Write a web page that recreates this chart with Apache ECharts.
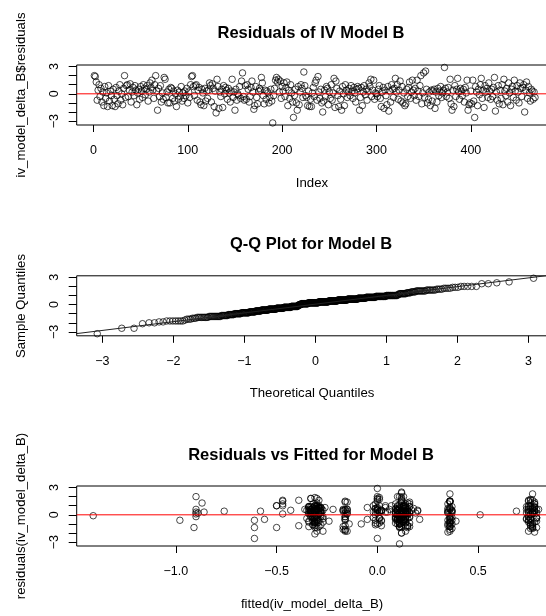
<!DOCTYPE html>
<html>
<head>
<meta charset="utf-8">
<script src="https://cdn.jsdelivr.net/npm/echarts@6/dist/echarts.min.js"></script>
<style>
    html, body { margin: 0; padding: 0; background: #fff; }
    #chart { width: 546px; height: 616px; }
</style>
</head>
<body>
<div id="chart"></div>
<script>
    const residuals = [
        2.0,1.9,1.3,-0.7,0.4,1.0,-0.3,0.6,-0.9,0.2,-1.3,0.8,-0.5,0.1,-1.4,0.9,-0.8,0.3,-0.2,-1.3,
        0.5,-0.6,-1.4,0.7,-0.2,-1.1,0.3,1.0,-0.7,0.0,-1.2,0.6,2.0,-0.4,0.9,1.0,-0.3,0.4,1.1,-0.9,
        0.2,0.7,-0.2,0.9,0.4,-1.2,0.1,0.5,-0.6,0.8,0.3,-0.4,1.0,0.6,-0.1,0.5,0.9,-0.8,0.2,1.2,
        0.7,1.5,0.4,-0.5,1.0,2.0,0.3,-1.8,0.6,-0.3,0.9,-0.9,0.1,-0.6,1.8,1.6,-0.4,0.2,-1.0,0.5,
        -1.0,0.7,0.6,-0.5,0.3,-0.8,0.0,-1.4,0.4,-0.6,0.2,-0.3,0.8,-0.8,0.1,-0.5,0.3,-0.2,0.6,-1.0,
        0.2,-0.4,1.0,1.9,2.0,0.8,-0.2,0.9,1.0,-0.7,0.4,0.7,-0.9,-1.2,0.5,0.1,-1.3,0.6,-0.8,0.3,
        -0.5,0.4,1.2,0.9,-0.9,1.1,0.6,-1.4,0.3,-2.1,1.6,0.8,-1.6,0.2,-0.3,0.5,-1.5,0.9,0.0,0.7,
        0.4,-0.6,0.6,0.1,-0.9,0.3,1.6,-0.4,0.2,-1.8,0.5,-0.7,0.0,-0.2,0.8,-0.5,1.4,2.3,-0.3,-0.7,
        0.9,-0.6,1.0,0.5,-0.9,-0.3,0.7,1.4,0.2,-1.7,-1.3,0.8,-0.4,-1.1,0.3,0.6,0.4,1.8,1.2,-0.2,
        -1.1,0.4,-0.6,0.3,0.1,-1.0,-0.4,0.5,-0.8,-3.2,-0.2,0.6,1.5,1.8,1.3,1.6,0.2,1.4,-0.5,0.8,
        0.3,1.2,-0.3,0.7,1.3,-1.3,0.4,-0.5,1.0,0.1,-0.9,-2.6,-0.2,0.5,-1.0,-1.8,0.8,-1.2,0.2,1.0,
        0.6,-0.4,2.4,0.9,-0.2,-0.4,-1.3,0.3,-1.4,-0.6,-1.4,0.1,0.7,-0.3,1.2,1.5,-0.7,1.9,0.2,-0.5,
        0.5,-1.0,-2.0,-0.8,0.4,-0.3,0.8,0.6,-1.2,0.2,-0.5,1.0,-0.7,0.1,1.7,-1.5,1.4,0.6,-0.2,-1.4,
        0.3,-0.6,-1.8,0.8,0.0,-1.3,1.0,0.4,-0.4,0.2,0.6,-0.2,0.9,0.3,-0.5,0.7,0.1,-0.9,0.5,0.8,
        0.6,-1.8,-0.4,0.7,-1.3,0.2,0.9,-0.1,0.5,-0.7,0.3,1.2,0.8,1.6,-0.3,0.4,1.5,-0.6,0.1,0.0,
        -0.3,0.5,0.9,-0.5,-1.4,0.2,0.7,-1.6,0.4,-0.2,-1.2,0.8,-1.9,0.3,-0.9,1.0,0.5,-0.4,0.6,1.7,
        0.2,1.0,-0.6,0.4,1.4,-0.8,0.8,-1.0,0.1,-1.3,-1.1,0.5,-0.3,0.7,1.3,-0.5,0.2,1.5,0.4,-0.2,
        0.6,-0.7,1.5,0.3,-0.3,0.9,2.0,-1.1,0.1,2.3,-0.4,2.5,0.5,-1.0,-0.6,0.2,-1.3,0.4,-0.8,0.3,
        0.5,-1.6,0.2,-0.9,0.6,-0.2,0.3,0.8,-0.4,0.1,0.4,2.9,0.6,-0.3,0.2,0.7,-0.5,1.6,-1.1,-1.8,
        0.4,-1.4,0.9,-0.3,0.5,1.7,0.2,-0.6,0.6,0.3,-0.2,0.5,-0.9,0.7,0.1,1.5,-1.8,-1.2,-1.0,0.3,
        -1.1,1.5,-0.8,-2.6,0.8,0.2,-1.3,0.5,-0.1,1.0,1.7,-0.5,0.4,-1.5,0.9,0.2,0.6,-0.4,1.2,0.3,
        -0.6,0.5,-0.3,0.7,1.8,-1.9,0.2,-0.7,0.9,-1.1,0.4,-0.5,1.0,-1.2,1.6,0.3,-0.2,0.6,-0.9,1.2,
        0.1,-1.3,0.5,0.8,-0.4,1.5,0.3,-0.7,0.9,0.2,-1.0,1.2,0.6,-0.3,0.7,1.0,-2.0,0.4,1.3,-0.5,
        0.8,0.1,-0.8,0.5,0.3,-0.6,0.2,-0.4
    ];

    // fitted values, same order
    const fittedValues = [
        -0.90,0.12,-0.87,0.10,-0.31,0.76,0.01,-0.33,0.14,0.36,-0.29,0.78,-0.16,0.09,-0.91,0.13,-0.34,-0.01,0.75,0.11,
        -0.30,-0.98,0.15,0.36,-0.28,0.12,0.77,-0.50,-0.32,0.10,-0.39,0.00,0.13,-0.35,0.16,-0.47,0.79,-0.15,0.11,-0.31,
        -0.89,0.14,-0.27,0.74,0.12,0.35,-0.47,-0.33,0.02,0.11,-0.86,0.15,-0.30,-0.36,-1.41,0.20,0.37,0.78,-0.32,0.09,
        -0.29,-0.47,-0.58,-0.56,0.13,0.10,0.35,-0.15,0.75,-0.02,0.16,-0.31,0.12,0.37,-0.33,-0.39,0.14,0.77,-0.08,0.00,
        0.11,-0.28,0.76,0.13,-0.90,0.36,0.51,0.79,-0.76,-0.61,0.10,-0.30,-0.05,0.14,-0.34,-0.05,0.04,0.12,-0.16,0.77,
        0.15,-0.32,-0.50,0.01,0.11,-0.29,0.36,0.13,0.75,-0.31,0.69,0.09,-0.01,-0.16,-0.35,0.12,0.36,0.06,-0.27,0.14,
        0.10,-0.33,-0.47,0.78,-0.30,0.13,-0.90,-0.61,0.16,-0.31,-0.29,0.00,-0.17,0.35,0.11,-0.43,0.76,-0.34,0.12,0.18,
        0.14,-0.31,0.36,-0.90,0.09,-0.28,0.12,0.74,-0.32,-0.30,-0.16,0.02,0.15,-0.33,0.04,0.11,-0.15,0.77,0.37,-0.24,
        0.13,0.75,-0.29,0.10,0.36,-0.31,0.00,0.16,-0.34,-0.16,0.12,0.78,-0.27,-0.32,0.14,-0.17,0.20,-0.30,-0.01,0.11,
        0.36,-0.33,0.76,0.13,-0.29,0.10,0.01,0.35,-0.31,0.11,-0.90,0.15,0.36,0.00,0.12,-0.47,0.79,-0.16,0.14,-0.28,
        0.09,0.78,-0.32,0.13,-0.30,-0.34,0.37,0.11,0.07,-0.15,0.16,-0.61,0.75,-0.31,-0.14,-0.16,0.12,0.02,-0.29,0.10,
        -0.22,0.76,0.12,-0.33,0.14,0.36,0.77,-0.28,0.11,-0.01,-0.50,0.15,-0.32,0.09,0.35,0.00,-0.30,-0.31,0.74,0.13,
        -0.17,0.11,0.12,-0.29,0.01,0.36,0.14,-0.33,-0.31,0.75,0.10,0.04,-0.34,0.13,0.00,0.37,0.78,-0.15,0.16,-0.30,
        0.12,-0.32,0.75,0.36,-0.28,0.11,-0.02,0.15,-0.31,0.77,0.09,-0.16,0.13,-0.33,0.12,0.35,-0.29,0.01,0.14,-0.26,
        0.10,-0.27,0.76,-0.31,0.36,0.13,-0.34,0.11,0.00,0.79,-0.30,0.16,-0.32,0.75,0.12,-0.17,0.36,-0.29,0.14,-0.01,
        0.11,0.37,-0.31,0.13,0.77,-0.33,0.10,0.36,0.02,-0.16,0.15,-0.28,0.35,0.12,0.76,-0.30,0.17,0.09,-0.15,0.01,
        -0.32,0.14,-0.16,0.78,0.36,0.11,-0.29,0.00,0.13,-0.17,0.77,0.10,-0.31,-0.01,0.15,0.36,0.19,0.75,-0.34,0.12,
        0.11,0.39,-0.16,0.01,0.14,-0.30,0.00,0.76,-0.33,0.36,0.10,0.12,-0.28,0.35,0.13,-0.15,0.16,0.78,-0.31,-0.02,
        0.12,-0.16,-0.32,0.36,0.75,0.09,0.05,-0.29,0.01,0.14,0.77,0.00,-0.34,0.11,0.37,0.13,-0.30,0.76,-0.01,0.36,
        0.15,-0.31,0.10,0.79,-0.27,0.12,-0.16,0.35,0.74,0.13,-0.33,0.02,0.11,-0.30,0.77,0.36,0.14,0.76,0.37,0.09,
        -0.32,0.12,0.75,0.00,-0.29,0.16,0.36,0.78,0.13,-0.31,0.76,0.21,0.10,0.77,-0.34,0.11,0.80,-0.16,0.14,0.35,
        0.75,-0.30,0.12,-0.01,-0.33,0.78,0.09,0.36,0.76,-0.28,0.13,0.74,0.01,0.15,0.77,-0.31,0.11,0.79,0.12,-0.32,
        0.76,0.14,-0.29,0.77,0.10,0.36,-0.33,0.13,0.75,0.00,0.11,0.78,-0.30,0.16,0.77,-0.31,0.12,0.37,0.76,0.09,
        -0.34,0.78,0.13,0.02,0.75,0.11,-0.28,0.79
    ];

    const indexTicks = [0, 100, 200, 300, 400];
    const quantileTicks = [-3, -2, -1, 0, 1, 2, 3];
    const fittedTicks = [-1.0, -0.5, 0.0, 0.5];
    const residTicks = [-3, -2, -1, 0, 1, 2, 3];
    const residLabels = [-3, 0, 3];

    // axis limits (R pads each data range by 4%)
    const indexLim = [-17.7, 486.7];
    const quantLim = [-3.36, 3.34];
    const fittedLim = [-1.492, 0.870];
    const residLim = [-3.43, 3.17];

    // inverse normal cdf (Acklam), for the theoretical quantiles of the Q-Q plot
    function qnorm(p) {
        const a = [-39.69683028665376, 220.9460984245205, -275.9285104469687, 138.3577518672690, -30.66479806614716, 2.506628277459239];
        const b = [-54.47609879822406, 161.5858368580409, -155.6989798598866, 66.80131188771972, -13.28068155288572];
        const c = [-0.007784894002430293, -0.3223964580411365, -2.400758277161838, -2.549732539343734, 4.374664141464968, 2.938163982698783];
        const d = [0.007784695709041462, 0.3224671290700398, 2.445134137142996, 3.754408661907416];
        const pl = 0.02425;
        let q, r;
        if (p < pl) {
            q = Math.sqrt(-2 * Math.log(p));
            return (((((c[0]*q+c[1])*q+c[2])*q+c[3])*q+c[4])*q+c[5]) / ((((d[0]*q+d[1])*q+d[2])*q+d[3])*q+1);
        }
        if (p > 1 - pl) {
            q = Math.sqrt(-2 * Math.log(1 - p));
            return -(((((c[0]*q+c[1])*q+c[2])*q+c[3])*q+c[4])*q+c[5]) / ((((d[0]*q+d[1])*q+d[2])*q+d[3])*q+1);
        }
        q = p - 0.5;
        r = q * q;
        return (((((a[0]*r+a[1])*r+a[2])*r+a[3])*r+a[4])*r+a[5])*q / (((((b[0]*r+b[1])*r+b[2])*r+b[3])*r+b[4])*r+1);
    }

    const n = residuals.length;
    const sorted = residuals.slice().sort((x, y) => x - y);
    const qqPoints = sorted.map((v, i) => [qnorm((i + 0.5) / n), v]);

    function quantile7(arr, p) {
        const h = (arr.length - 1) * p, lo = Math.floor(h);
        return arr[lo] + (h - lo) * (arr[Math.min(lo + 1, arr.length - 1)] - arr[lo]);
    }
    // qqline through the quartiles, as R does
    const q25 = quantile7(sorted, 0.25), q75 = quantile7(sorted, 0.75);
    const qqSlope = (q75 - q25) / (qnorm(0.75) - qnorm(0.25));
    const qqInt = q25 - qqSlope * qnorm(0.25);

    const indexPoints = residuals.map((v, i) => [i + 1, v]);
    const fittedPoints = fittedValues.slice(0, n).map((f, i) => [f, residuals[i]]);

    const txt = '#000';
    const fnt = 'Liberation Sans, Arial, sans-serif';
    const minus = s => s.replace('-', '\u2212');

    function yAxisFor(idx) {
        return {
            gridIndex: idx, type: 'value', min: residLim[0], max: residLim[1],
            axisLine: { show: false, onZero: false },
            splitLine: { show: false },
            axisTick: { show: true, length: 8, lineStyle: { color: '#000' }, customValues: residTicks },
            axisLabel: {
                show: true, rotate: 90, margin: 16, color: txt, fontSize: 12.5, fontFamily: fnt,
                customValues: residLabels, formatter: v => minus(String(v))
            }
        };
    }
    function xAxisFor(idx, lim, ticks, fmt) {
        return {
            gridIndex: idx, type: 'value', min: lim[0], max: lim[1],
            axisLine: { show: false, onZero: false },
            splitLine: { show: false },
            axisTick: { show: true, length: 7, lineStyle: { color: '#000' }, customValues: ticks },
            axisLabel: {
                show: true, margin: 19.5, color: txt, fontSize: 12.5, fontFamily: fnt,
                customValues: ticks, formatter: v => minus(fmt(v))
            }
        };
    }

    function pointStyle() {
        return { color: 'rgba(0,0,0,0)', borderColor: '#000', borderWidth: 0.9 };
    }
    // red horizontal reference line at zero (abline(h = 0)), across the full x range
    function zeroLine(idx, lim) {
        return {
            type: 'line', xAxisIndex: idx, yAxisIndex: idx, z: 3,
            data: [[lim[0], 0], [lim[1], 0]], symbol: 'none', silent: true,
            lineStyle: { color: '#ff0000', width: 1 }
        };
    }

    function textEl(text, x, y, bold, rot) {
        return {
            type: 'text', x: x, y: y, rotation: rot || 0,
            style: {
                text: text, fill: txt,
                font: (bold ? 'bold 16.5px ' : '13.2px ') + fnt,
                align: 'center', verticalAlign: 'middle'
            }
        };
    }

    function gridAt(top) {
        return { left: 76.7, top: top, width: 476, height: 60, show: true, borderColor: '#000', borderWidth: 1,
            backgroundColor: 'transparent', containLabel: false, outerBoundsMode: 'none' };
    }

    const chart = echarts.init(document.getElementById('chart'), null, { renderer: 'canvas' });
    chart.setOption({
        animation: false,
        backgroundColor: '#fff',
        grid: [gridAt(65), gridAt(275.8), gridAt(486)],
        xAxis: [
            xAxisFor(0, indexLim, indexTicks, v => String(v)),
            xAxisFor(1, quantLim, quantileTicks, v => String(v)),
            xAxisFor(2, fittedLim, fittedTicks, v => v.toFixed(1))
        ],
        yAxis: [yAxisFor(0), yAxisFor(1), yAxisFor(2)],
        series: [
            {
                type: 'scatter', xAxisIndex: 0, yAxisIndex: 0, data: indexPoints,
                symbol: 'circle', symbolSize: 6.5, itemStyle: pointStyle()
            },
            zeroLine(0, indexLim),
            {
                type: 'scatter', xAxisIndex: 1, yAxisIndex: 1, data: qqPoints,
                symbol: 'circle', symbolSize: 6.5, itemStyle: pointStyle()
            },
            {
                type: 'line', xAxisIndex: 1, yAxisIndex: 1, clip: true,
                data: [[-3.6, qqInt - 3.6 * qqSlope], [3.6, qqInt + 3.6 * qqSlope]],
                symbol: 'none', lineStyle: { color: '#222', width: 1 }
            },
            {
                type: 'scatter', xAxisIndex: 2, yAxisIndex: 2, data: fittedPoints,
                symbol: 'circle', symbolSize: 6.5, itemStyle: pointStyle()
            },
            zeroLine(2, fittedLim)
        ],
        graphic: [
            textEl('Residuals of IV Model B', 311, 33.5, true),
            textEl('Q-Q Plot for Model B', 311, 244.3, true),
            textEl('Residuals vs Fitted for Model B', 311, 455, true),
            textEl('Index', 312, 183),
            textEl('Theoretical Quantiles', 312, 393.7),
            textEl('fitted(iv_model_delta_B)', 312, 604.3),
            textEl('iv_model_delta_B$residuals', 21, 95, false, Math.PI / 2),
            textEl('Sample Quantiles', 21, 306, false, Math.PI / 2),
            textEl('residuals(iv_model_delta_B)', 21, 516, false, Math.PI / 2)
        ]
    });
</script>
</body>
</html>
